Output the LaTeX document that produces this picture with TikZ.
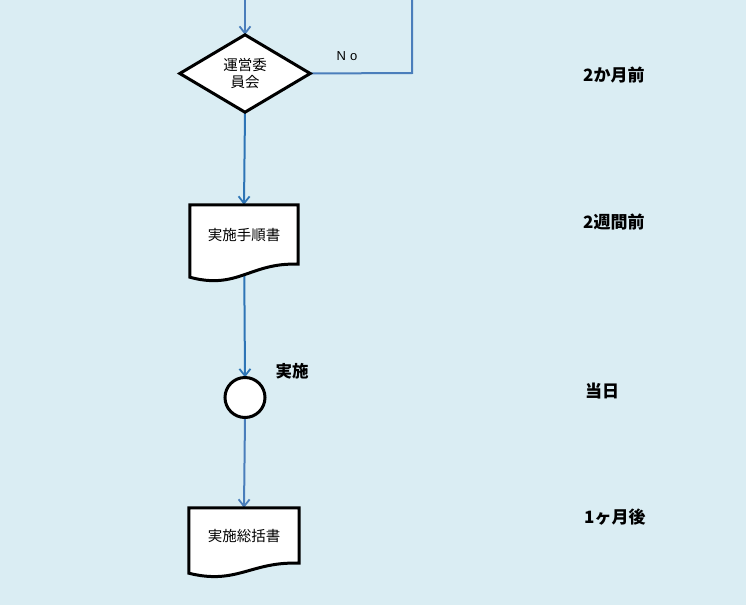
\documentclass[tikz,border=0pt]{standalone}
\usepackage{fontspec}
\setmainfont{Noto Sans CJK JP}
\newfontfamily\latinfont{Liberation Sans}
\usetikzlibrary{shapes.geometric,arrows.meta,calc}
\definecolor{bgblue}{RGB}{218,237,243}
\definecolor{mainblue}{RGB}{46,117,182}
\definecolor{loopblue}{RGB}{74,126,187}
\tikzset{
  conn/.style={draw=mainblue,line width=2pt},
  arr/.style={conn,-{Straight Barb[length=7pt,width=11pt,line width=1.8pt]}},
  shapeline/.style={draw=black,line width=3pt,fill=white,line join=miter},
  docbox/.style={rectangle,inner sep=0pt,font=\fontsize{14.5}{17}\selectfont},
  sidelabel/.style={anchor=west,font=\fontsize{17}{18}\selectfont\bfseries,inner sep=0pt},
}
\begin{document}
\begin{tikzpicture}[x=1pt,y=-1pt]
\fill[bgblue] (0,0) rectangle (746,605);
\useasboundingbox (0,0) rectangle (746,605);
% invisible anchors
\coordinate (top1) at (245,0);
\coordinate (loopc) at (412,73);
\coordinate (loopt) at (412,0);
\node[diamond,aspect=1.69,inner sep=0pt,minimum width=130pt,minimum height=77pt] (dec) at (245,73.5) {};
\node[docbox,minimum width=108pt,minimum height=59pt] (d1) at (244,234.5) {};
\node[circle,inner sep=0pt,minimum size=40pt] (c) at (245,397.5) {};
\node[docbox,minimum width=110pt,minimum height=55pt] (d2) at (244,535.5) {};
% connectors
\draw[arr,draw=loopblue] (top1) -- (dec.north);
\draw[conn,draw=loopblue] (dec.east) -- (loopc) -- (loopt);
\draw[arr] (dec.south) -- (d1.north);
\draw[arr] (d1.center) -- (c.north);
\draw[arr,draw=loopblue] (c.south) -- (d2.north);
% shapes
\draw[shapeline] (dec.north) -- (dec.east) -- (dec.south) -- (dec.west) -- cycle;
\node[align=center,font=\fontsize{14.5}{17}\selectfont] at (dec.center) {運営委\\員会};
\draw[shapeline] (d1.north west) -- (d1.north east) -- (d1.south east)
  .. controls ($(d1.south east)+(-48,-2)$) and ($(d1.south west)+(48,26)$) .. ($(d1.south west)+(0,13)$) -- cycle;
\node[docbox] at (d1.center) {実施手順書};
\draw[shapeline] (c) circle[radius=20pt];
\draw[shapeline] (d2.north west) -- (d2.north east) -- (d2.south east)
  .. controls ($(d2.south east)+(-48,-2)$) and ($(d2.south west)+(48,22)$) .. ($(d2.south west)+(0,10)$) -- cycle;
\node[docbox] at (d2.center) {実施総括書};
% labels
\node[font=\latinfont\fontsize{13}{15}\selectfont] (no) at (347,56) {N\,\,o};
\node[font=\fontsize{16.5}{18}\selectfont\bfseries] (jisshi) at (292,371) {実施};
\node[sidelabel] (l1) at (583,75) {2か月前};
\node[sidelabel] (l2) at (583,222) {2週間前};
\node[sidelabel] (l3) at (585,391) {当日};
\node[sidelabel] (l4) at (584,517) {1ヶ月後};
\end{tikzpicture}
\end{document}
